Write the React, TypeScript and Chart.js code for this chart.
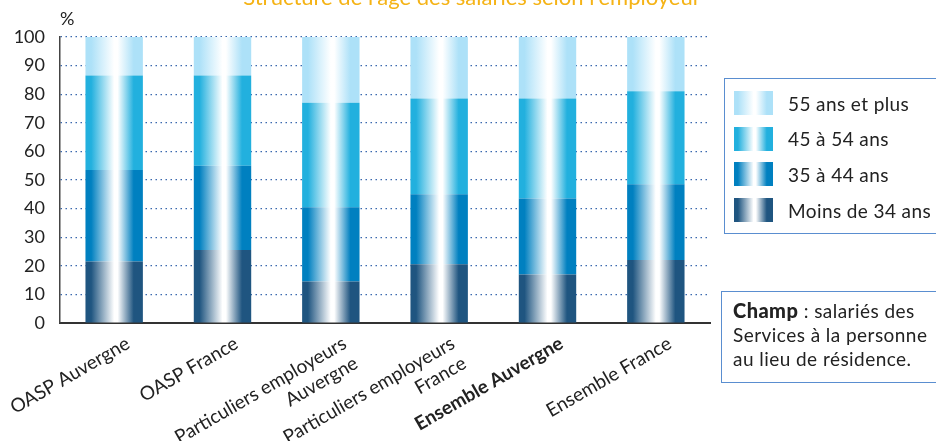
import React, { useEffect, useRef } from "react";
import { Chart, registerables } from "chart.js";

Chart.register(...registerables);

const categories: (string | string[])[] = [
  "OASP Auvergne",
  "OASP France",
  ["Particuliers employeurs", "Auvergne"],
  ["Particuliers employeurs", "France"],
  "Ensemble Auvergne",
  "Ensemble France",
];
const moins34 = [21.5, 25.5, 14.5, 20.5, 17, 22];
const ans35_44 = [32, 29.5, 26, 24.5, 26.5, 26.5];
const ans45_54 = [33, 31.5, 36.5, 33.5, 35, 32.5];
const ans55plus = [13.5, 13.5, 23, 21.5, 21.5, 19];
const seriesNames = ["Moins de 34 ans", "35 à 44 ans", "45 à 54 ans", "55 ans et plus"];
const seriesColors = ["#1F5580", "#0080C0", "#22B0DE", "#ADE1F8"];
const yTicks = [0, 10, 20, 30, 40, 50, 60, 70, 80, 90, 100];

const FONT = "Lato, 'Open Sans', sans-serif";
const BAR_FRAC = 0.53;

function grad(ctx: CanvasRenderingContext2D, left: number, width: number, color: string) {
  const g = ctx.createLinearGradient(left, 0, left + width, 0);
  g.addColorStop(0, color);
  g.addColorStop(0.1, color);
  g.addColorStop(0.5, "#ffffff");
  g.addColorStop(0.56, "#ffffff");
  g.addColorStop(0.84, color);
  g.addColorStop(1, color);
  return g;
}

function cssGrad(color: string) {
  return `linear-gradient(to right, ${color} 0%, ${color} 10%, #ffffff 50%, #ffffff 56%, ${color} 84%, ${color} 100%)`;
}

export default function App() {
  const ref = useRef<HTMLCanvasElement>(null);
  useEffect(() => {
    if (!ref.current) return;
    const series = [moins34, ans35_44, ans45_54, ans55plus];
    const chart = new Chart(ref.current, {
      type: "bar",
      data: {
        labels: categories,
        datasets: series.map((d, k) => ({
          label: seriesNames[k],
          data: d,
          backgroundColor: (c: any) => {
            const ch = c.chart;
            const area = ch.chartArea;
            if (!area || !ch.scales.x) return seriesColors[k];
            const center = ch.scales.x.getPixelForValue(c.dataIndex);
            const w = ((area.right - area.left) / categories.length) * BAR_FRAC;
            return grad(ch.ctx, center - w / 2, w, seriesColors[k]);
          },
          borderWidth: 0,
          barPercentage: 1,
          categoryPercentage: BAR_FRAC,
        })),
      },
      options: {
        animation: false,
        responsive: false,
        layout: { padding: { top: 37, right: 226, left: 0, bottom: 0 } },
        plugins: { legend: { display: false }, tooltip: { enabled: false }, title: { display: false } },
        scales: {
          x: {
            stacked: true,
            grid: { display: false },
            border: { display: true, color: "#333333", width: 2 },
            ticks: {
              autoSkip: false,
              maxRotation: 30,
              minRotation: 30,
              padding: 1,
              labelOffset: 14,
              color: "#222222",
              font: (c: any) => ({ family: FONT, size: 19, weight: c.index === 4 ? "bold" : "normal", lineHeight: 1.2 }),
            },
            afterFit: (s: any) => {
              s.height = 118;
              s.paddingLeft = 0;
              s.paddingRight = 0;
            },
          },
          y: {
            stacked: true,
            min: 0,
            max: 100,
            afterBuildTicks: (s: any) => {
              s.ticks = yTicks.map((v) => ({ value: v }));
            },
            grid: { color: "#3A68AE", lineWidth: 1.2, drawTicks: false },
            border: { display: true, color: "#444444", width: 1.5, dash: [1.5, 3.5] },
            ticks: { padding: 15, color: "#222222", font: { family: FONT, size: 18 } },
            afterFit: (s: any) => {
              s.width = 60;
            },
          },
        },
      },
    });
    return () => chart.destroy();
  }, []);

  const legendItems = [3, 2, 1, 0];
  return (
    <div style={{ position: "fixed", left: 0, top: 0, width: 936, height: 441, overflow: "hidden", background: "#fff", fontFamily: FONT, color: "#222" }}>
      <canvas ref={ref} width={936} height={441} style={{ position: "absolute", left: 0, top: 0 }} />
      <div style={{ position: "absolute", left: 0, width: 944, top: -14.5, textAlign: "center", fontSize: 22, lineHeight: "22px", color: "#F5B316", whiteSpace: "nowrap" }}>
        Structure de l'âge des salariés selon l'employeur
      </div>
      <div style={{ position: "absolute", left: 60, top: 8, fontSize: 18, lineHeight: "20px" }}>%</div>
      <div style={{ position: "absolute", left: 724, top: 78, width: 240, height: 156, border: "1.5px solid #5A8ED0", boxSizing: "border-box" }}>
        {legendItems.map((k, i) => (
          <div key={k} style={{ position: "absolute", left: 9, top: 12 + i * 35.7, height: 24, display: "flex", alignItems: "center", whiteSpace: "nowrap" }}>
            <div style={{ width: 39, height: 24, background: cssGrad(seriesColors[k]) }} />
            <span style={{ marginLeft: 15, fontSize: 19, letterSpacing: 0.4 }}>{seriesNames[k]}</span>
          </div>
        ))}
      </div>
      <div style={{ position: "absolute", left: 721, top: 291, width: 240, height: 92, border: "1.5px solid #5A8ED0", boxSizing: "border-box", padding: "6px 0 0 11px", fontSize: 19, letterSpacing: 0.45, lineHeight: "24px", whiteSpace: "nowrap" }}>
        <b style={{ fontSize: 20, fontWeight: 900 }}>Champ</b> : salariés des
        <br />
        Services à la personne
        <br />
        au lieu de résidence.
      </div>
    </div>
  );
}
